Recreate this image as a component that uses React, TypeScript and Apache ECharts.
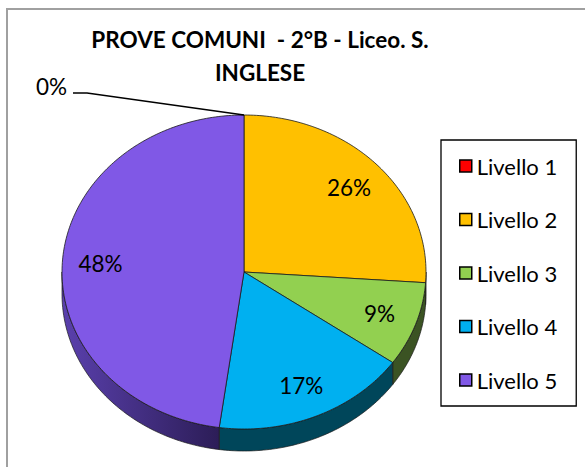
import React, { useEffect, useRef } from "react";
import * as echarts from "echarts";

const levels = ["Livello 1", "Livello 2", "Livello 3", "Livello 4", "Livello 5"];
const counts = [0, 6, 2, 4, 11];
const topColors = ["#ff0000", "#ffc000", "#92d050", "#00b0f0", "#8058e6"];
const sideColors = ["#800000", "#806000", "#3b5323", "#00465a", "#3f2c86"];
const titleText = "PROVE COMUNI  - 2°B - Liceo. S.\nINGLESE";

const FONT = "Lato";
const CX = 244;
const CY = 272;
const RX = 182;
const RY = 157;
const DEPTH = 22;

const total = counts.reduce((a, b) => a + b, 0);

function pt(t: number, dz: number): number[] {
  return [CX + RX * Math.sin(t), CY - RY * Math.cos(t) + dz];
}

function arc(a: number, b: number, dz: number): number[][] {
  const pts: number[][] = [];
  const n = Math.max(2, Math.ceil(((b - a) * 180) / Math.PI));
  for (let k = 0; k <= n; k++) pts.push(pt(a + ((b - a) * k) / n, dz));
  return pts;
}

function makeRender(i: number) {
  return (params: any, api: any) => {
    const v = api.value(0);
    const before = counts.slice(0, i).reduce((a, b) => a + b, 0);
    const start = (before / total) * Math.PI * 2;
    const end = ((before + v) / total) * Math.PI * 2;
    const children: any[] = [];
    const pct = Math.round((v / total) * 100) + "%";
    // side wall (front half)
    const a = Math.max(start, Math.PI / 2);
    const b = Math.min(end, (Math.PI * 3) / 2);
    if (b > a) {
      const pts = arc(a, b, 0).concat(arc(a, b, DEPTH).reverse());
      let fill: any = sideColors[i];
      if (i === 4) {
        fill = new echarts.graphic.LinearGradient(0, 0, 1, 0, [
          { offset: 0, color: "#5a40ad" },
          { offset: 1, color: "#2c1d57" },
        ]);
      }
      children.push({
        type: "polygon",
        shape: { points: pts },
        style: { fill, stroke: "#1a1a1a", lineWidth: 0.7 },
      });
    }
    if (end > start) {
      const pts = [[CX, CY]].concat(arc(start, end, 0));
      children.push({
        type: "polygon",
        shape: { points: pts },
        style: { fill: topColors[i], stroke: "#1a1a1a", lineWidth: 0.8 },
      });
      const mid = (start + end) / 2;
      const lx = CX + RX * 0.79 * Math.sin(mid);
      const ly = CY - RY * 0.79 * Math.cos(mid);
      children.push({
        type: "text",
        style: {
          text: pct,
          x: lx,
          y: ly,
          fill: "#000",
          fontSize: 22.5,
          fontFamily: FONT,
          align: "center",
          verticalAlign: "middle",
        },
      });
    } else {
      // zero slice: leader line to outside label
      const p0 = pt(start, 0);
      const elbow = [p0[0] - 157, p0[1] - 22];
      const endP = [elbow[0] - 14, elbow[1]];
      children.push({
        type: "polyline",
        shape: { points: [p0, elbow, endP] },
        style: { stroke: "#000", lineWidth: 1.3, fill: null },
        z2: 10,
      });
      children.push({
        type: "text",
        style: {
          text: pct,
          x: endP[0] - 6,
          y: endP[1] - 7,
          fill: "#000",
          fontSize: 22.5,
          fontFamily: FONT,
          align: "right",
          verticalAlign: "middle",
        },
      });
    }
    return { type: "group", children };
  };
}

export default function App() {
  const ref = useRef<HTMLDivElement>(null);
  useEffect(() => {
    if (!ref.current) return;
    const chart = echarts.init(ref.current, null, { renderer: "svg" });
    chart.setOption({
      animation: false,
      backgroundColor: "#ffffff",
      title: {
        text: titleText,
        left: 255,
        top: 18,
        textAlign: "center",
        textStyle: {
          fontFamily: FONT,
          fontWeight: "bold",
          fontSize: 22.5,
          lineHeight: 33,
          color: "#000",
        },
      },
      legend: {
        orient: "vertical",
        left: 441,
        top: 140,
        data: levels,
        icon: "rect",
        itemWidth: 12,
        itemHeight: 12,
        itemGap: 31.5,
        padding: [15, 19, 15, 18],
        borderColor: "#000",
        borderWidth: 1.3,
        itemStyle: { borderColor: "#000", borderWidth: 1.5 },
        textStyle: { fontFamily: FONT, fontSize: 22, lineHeight: 20, color: "#000" },
      },
      graphic: [
        {
          type: "rect",
          shape: { x: 7, y: 9, width: 640, height: 520 },
          style: { fill: null, stroke: "#a0a0a0", lineWidth: 2 },
          silent: true,
        },
      ],
      series: levels.map((name, i) => ({
        type: "custom",
        name,
        coordinateSystem: "none",
        itemStyle: { color: topColors[i] },
        data: [[counts[i]]],
        renderItem: makeRender(i),
      })),
    });
    return () => chart.dispose();
  }, []);
  return (
    <div
      ref={ref}
      style={{ position: "fixed", left: 0, top: 0, width: 585, height: 467 }}
    />
  );
}
